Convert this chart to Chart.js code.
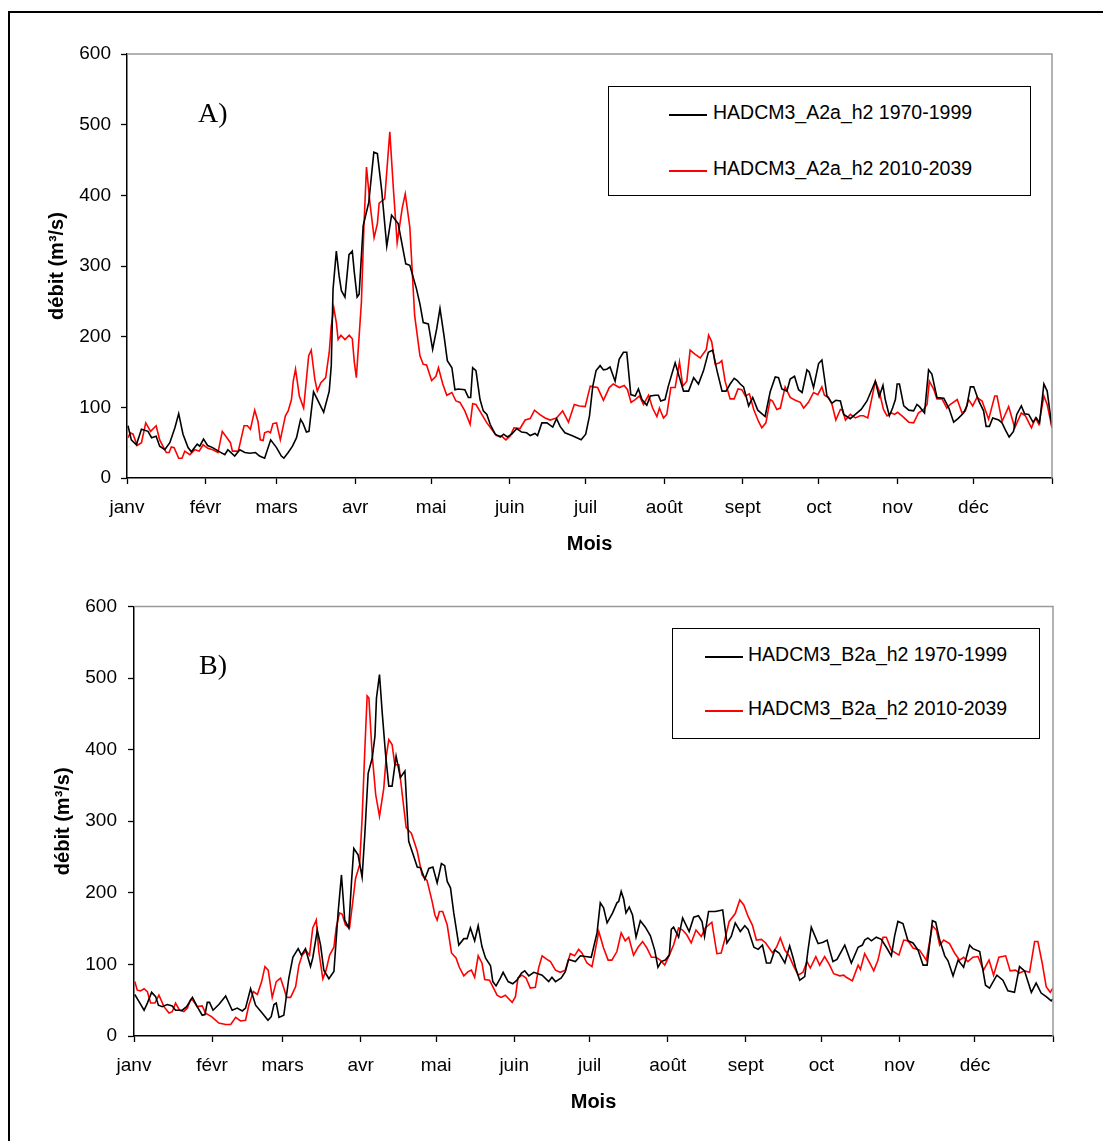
<!DOCTYPE html>
<html>
<head>
<meta charset="utf-8">
<script src="https://cdn.jsdelivr.net/npm/chart.js"></script>
<style>
body { margin: 0; background: #fff; width: 1103px; height: 1141px; overflow: hidden; position: relative; font-family: 'Liberation Sans', Arial, sans-serif; }
.frame { position: absolute; left: 8px; top: 11px; width: 1200px; height: 1200px; border-left: 2px solid #000; border-top: 2px solid #000; }
canvas { position: absolute; left: 0; }
.legend { position: absolute; box-sizing: border-box; border: 1px solid #000; background: #fff; }
.row { position: absolute; left: 0; width: 100%; height: 20px; font-size: 19.5px; line-height: 20px; white-space: nowrap; color: #000; }
.row i { position: absolute; width: 38px; height: 2px; top: 12px; }
.row span { position: absolute; top: 0; }
.tag { position: absolute; font-family: 'Liberation Serif', 'Times New Roman', serif; font-size: 28px; line-height: 28px; color: #000; }
</style>
</head>
<body>
<div class="frame"></div>
<canvas id="chartA" width="1103" height="570" style="top:0px"></canvas>
<canvas id="chartB" width="1103" height="581" style="top:560px"></canvas>
<div class="tag" style="left:198px;top:99px">A)</div>
<div class="tag" style="left:199px;top:651px">B)</div>
<script>
// axe des mois (jour de l'annee du 1er de chaque mois)
const monthNames = ['janv', 'févr', 'mars', 'avr', 'mai', 'juin', 'juil', 'août', 'sept', 'oct', 'nov', 'déc'];
const monthStarts = [0, 31, 59, 90, 120, 151, 181, 212, 243, 273, 304, 334, 365];
const yMin = 0, yMax = 600, yStep = 100;

const labelsA = ['HADCM3_A2a_h2 1970-1999', 'HADCM3_A2a_h2 2010-2039'];
const labelsB = ['HADCM3_B2a_h2 1970-1999', 'HADCM3_B2a_h2 2010-2039'];

// [jour, debit m3/s]
const histA = [[0.4,74],[1.7,54],[3.7,47],[5.7,69],[8.3,66],[9.7,57],[11.5,59],[12.9,45],[14.9,40],[16.9,50],[18.9,71],[20.4,91],[22.1,62],[24.1,43],[25.4,37],[27.7,48],[28.7,45],[30.2,55],[31.8,46],[33.8,43],[36.6,37],[38.6,33],[39.8,40],[42.5,31],[44.5,40],[46.5,36],[48.5,35],[50.7,36],[52.3,31],[54.3,28],[56.7,54],[59,43],[60.9,31],[61.9,28],[63.6,36],[65.3,45],[66.9,57],[68.5,83],[69.5,77],[70.8,65],[71.8,66],[73.6,122],[75.4,109],[77.6,93],[79.8,123],[80.6,159],[81.3,267],[82.6,321],[83.7,286],[84.6,265],[86,256],[87.6,316],[88.9,321],[89.7,291],[90.8,256],[91.6,260],[93.2,357],[95.4,390],[97.4,461],[98.8,459],[100.5,407],[102.5,328],[104.4,372],[107,360],[110,303],[111.6,301],[114.2,268],[115.6,246],[116.9,220],[118.9,218],[120.6,182],[122.2,211],[123.5,240],[125.1,201],[126.4,166],[128.2,156],[129.4,125],[130.7,126],[133.3,125],[134.7,114],[135.6,114],[136.4,156],[137.7,152],[139.3,111],[140.6,95],[142,90],[143.3,76],[145.3,62],[147.3,58],[148.6,62],[150.1,58],[151.8,62],[153.8,70],[155.7,65],[157.7,64],[159.1,60],[161,63],[162,60],[163.7,78],[165.7,78],[168,72],[169.5,84],[170.9,73],[172.8,64],[175.5,60],[177.5,57],[179.2,54],[181,62],[182.5,88],[183.8,130],[185.1,152],[186.7,159],[188,153],[189.3,154],[190.6,157],[192.6,137],[194.2,168],[195.9,178],[197.2,178],[198.8,118],[200.5,116],[201.8,126],[203.2,111],[205.1,103],[206.5,116],[208.5,117],[209.7,117],[210.6,109],[212.3,111],[213.6,130],[216.3,163],[217.6,147],[219.6,123],[221.6,123],[223.6,142],[225.5,133],[227.5,152],[229.4,178],[231.1,181],[232.8,152],[234.8,123],[236.4,123],[238,133],[239.6,141],[240.8,138],[242,133],[243.3,129],[245.3,102],[246.9,114],[248.9,96],[251.8,87],[253.8,122],[255.8,143],[257.1,142],[258.4,126],[260.4,123],[261.7,140],[263.4,144],[265,125],[266.4,121],[268.3,153],[269.2,150],[270.9,128],[272.9,162],[274.2,167],[276.2,116],[278.2,106],[279.7,110],[281.5,109],[282.8,90],[285.4,84],[287.4,90],[289.7,97],[292,109],[295.3,137],[296.8,115],[298.3,131],[299.2,111],[300.8,88],[302.1,99],[303.2,111],[303.9,133],[304.8,133],[306.5,102],[308.5,96],[310.4,95],[311.7,104],[312.7,101],[314.7,92],[316.3,153],[317.6,147],[319.6,114],[322.3,113],[324.3,99],[326.2,79],[327.9,84],[330.1,92],[331.4,102],[332.8,129],[334.1,129],[336.1,109],[338,95],[339,73],[340.3,73],[341.6,85],[344,82],[345.3,78],[346.6,68],[348.1,58],[349.8,66],[351.1,90],[352.9,102],[354.2,91],[355.8,90],[357.5,79],[358.8,85],[360.1,78],[361.8,133],[363.1,123],[365,71]];

const futA = [[0.4,57],[1.3,64],[2.4,62],[4,46],[5.7,50],[7.4,78],[9.3,66],[11.5,74],[12.9,54],[15.5,36],[16.6,36],[17.5,44],[18.6,43],[20.4,28],[21.7,28],[22.8,38],[24.8,33],[26.8,40],[28.5,38],[30,47],[31.9,42],[33.9,40],[35.9,36],[37.6,66],[40.8,50],[41.6,38],[43.9,38],[46.2,74],[47.5,74],[48.7,69],[50.4,96],[51.7,80],[52.6,54],[53.7,53],[54.3,64],[55.7,66],[56.6,64],[57.6,77],[59,78],[60.5,54],[62.5,88],[63.6,95],[64.9,111],[65.6,137],[66.5,154],[68,116],[69.7,99],[71.7,173],[72.7,181],[74.1,140],[75.1,123],[76.5,135],[78.4,142],[79.8,178],[80.6,215],[81.6,241],[82.6,220],[83.3,196],[84.4,202],[86,196],[87.7,202],[88.9,197],[89.7,164],[90.5,142],[92.5,249],[93.5,357],[94.5,440],[95.8,391],[97.5,340],[98.8,360],[99.5,389],[101.7,395],[103.7,490],[105.1,410],[106.6,333],[108.6,382],[109.8,402],[111.6,355],[113.5,230],[115.6,173],[116.9,161],[118.2,160],[120.2,138],[121.9,144],[122.9,156],[124.6,133],[126.2,117],[128.2,121],[129.8,109],[131.4,107],[133.3,95],[135.4,76],[136.4,105],[137.7,104],[140,90],[142,78],[143.9,69],[145.7,60],[147.9,59],[149.5,54],[151.1,59],[152.7,71],[155.1,70],[157.1,82],[159.1,84],[160.8,96],[162.8,90],[165,85],[167,82],[169.5,85],[171.9,95],[174.2,79],[176.5,104],[178.5,102],[180.8,101],[182.8,130],[184.1,129],[185.7,128],[188,110],[190.3,128],[191.9,133],[194.3,128],[196.2,131],[197.5,125],[198.9,107],[200.5,111],[202.2,116],[203.8,104],[205.8,117],[207.4,99],[209.1,87],[210.1,99],[211.7,85],[213,90],[214.6,128],[216.3,128],[218,164],[219.3,130],[220.9,137],[222.2,181],[224.2,175],[226.2,170],[228.6,182],[229.5,202],[230.7,193],[232.1,161],[233.8,163],[234.7,166],[236,137],[238,112],[239.6,112],[241.1,126],[242.6,125],[244,116],[245.6,119],[247.3,97],[249.2,80],[250.5,71],[252.1,78],[253.8,111],[254.7,109],[256.4,97],[257.8,99],[259.7,129],[261.7,114],[263.7,110],[265.7,107],[267,99],[268.9,107],[270.9,121],[272.6,118],[274.2,129],[275.2,117],[276.8,114],[278.2,104],[279.7,82],[281.5,97],[282.4,96],[283.5,82],[285.4,90],[287.4,85],[289.3,88],[290.6,88],[292.3,85],[295.3,137],[296.8,123],[298.5,97],[299.9,88],[301.6,92],[302.9,90],[304.1,93],[305.8,88],[308.5,79],[310.4,78],[312.3,92],[314.3,97],[315.7,104],[316.6,137],[318.4,125],[319.6,112],[321.6,112],[323.5,99],[324.8,104],[327.6,111],[329.5,92],[330.8,95],[332.1,111],[333.7,102],[335.4,114],[337.4,109],[340,83],[342.4,116],[343.3,116],[345.3,80],[347.9,101],[350.3,71],[352.9,92],[354.5,88],[356.9,71],[358.5,85],[359.8,76],[361.8,116],[363.1,104],[365,71]];

const histB = [[0.3,58],[2,48],[4,36],[5.3,46],[7,61],[8.6,55],[9.7,43],[11.2,41],[13.2,44],[15.2,42],[16.5,36],[19.2,36],[20.9,41],[23.2,54],[25.1,41],[27.1,29],[28.2,30],[29.1,47],[30,47],[31.4,36],[33.7,44],[36.4,56],[39,36],[41,39],[43,35],[44.3,39],[46.3,66],[48.3,43],[50.9,32],[53.2,22],[54.5,27],[55.6,44],[56.5,46],[57.6,26],[59.5,29],[61.5,81],[63.1,110],[65.2,122],[66.5,113],[68.1,122],[70.1,97],[71,109],[72.8,148],[74.1,127],[75.4,92],[77.4,80],[79.4,90],[81.1,174],[82.4,225],[83.7,162],[85.3,151],[86.4,216],[87.3,262],[89,253],[90.6,222],[91.7,283],[93,367],[94.6,388],[95.7,419],[96.3,472],[97.5,505],[98.6,451],[99.9,394],[101.2,349],[102.5,349],[104.1,391],[105.8,361],[107.6,370],[109.1,272],[111.1,251],[112.5,236],[113.8,235],[115.5,219],[117.1,234],[118.7,236],[120.4,214],[122.1,241],[123.4,238],[124.4,216],[125.7,207],[127,172],[129,127],[131,136],[132.3,136],[133.6,151],[135.3,133],[136.7,154],[138.2,125],[139.6,109],[141.6,98],[142.5,76],[143.8,70],[145.5,81],[146.6,89],[148.6,76],[150.4,73],[152.1,78],[153.9,88],[155.2,91],[156.8,84],[158.8,89],[162.1,85],[164.7,76],[166,82],[167.4,76],[169.7,81],[171.3,90],[172.6,107],[175.3,104],[177.3,112],[179.3,111],[181.6,110],[183.9,144],[185.2,186],[186.5,179],[187.9,158],[190.1,172],[191.8,186],[192.5,188],[193.5,202],[194.5,191],[195.4,172],[196.7,180],[198,169],[199.4,138],[201.1,161],[203.1,152],[205.1,140],[206.8,120],[208.1,96],[209.4,104],[211,106],[212.6,113],[213.4,149],[214.3,152],[216.3,138],[217.9,165],[220.5,146],[222.3,166],[224.2,168],[225.6,160],[226.6,139],[228.2,174],[230.9,174],[233.8,176],[235.5,130],[237.2,139],[238.8,158],[240.8,146],[242.6,154],[243.9,149],[246.2,124],[247.9,121],[249.6,127],[251.2,102],[252.8,102],[254.5,120],[256.2,116],[258.5,102],[260.4,126],[261.8,109],[262.8,95],[264.4,78],[266.4,83],[267.7,120],[269,152],[271.7,129],[273.7,131],[275.3,134],[276.3,120],[277.6,104],[279.2,107],[282.3,127],[284.9,102],[287.6,124],[289.3,127],[290.2,134],[291.5,137],[292.9,133],[294.8,138],[296.8,135],[298.8,124],[300.8,112],[302.1,140],[303.4,160],[305.4,157],[307.4,133],[309.4,130],[311.4,120],[313.4,99],[315,99],[317.1,161],[318.4,159],[320,134],[322,112],[323.3,105],[325.3,84],[327.3,106],[329.5,96],[331.9,127],[333.2,122],[335.9,118],[338.2,71],[339.8,67],[342.7,85],[345.1,78],[347.1,63],[349.7,61],[351.7,97],[353.7,91],[356.4,61],[358.3,74],[360.3,60],[362.3,55],[364.3,49],[365,52]];

const futB = [[0.3,76],[1.3,64],[2.6,63],[4,66],[5.3,62],[6.6,46],[8.3,46],[9.9,57],[11.9,41],[13.9,32],[15.2,34],[16.5,46],[18.1,36],[19.8,34],[21.2,39],[22.5,51],[23.4,50],[25.1,41],[27.1,42],[28.4,32],[30.8,27],[33.7,18],[36.4,16],[38.4,16],[40.4,26],[42.3,21],[44.3,22],[45.6,43],[47.4,62],[49,58],[50.7,76],[52,97],[53.3,92],[54.9,54],[56.5,76],[58.2,81],[59.5,67],[60.6,54],[62.2,54],[64.2,69],[65.5,99],[66.8,113],[68.4,119],[69.7,113],[71,151],[72.4,162],[73.4,118],[75,80],[76.3,92],[77.7,113],[79.4,124],[80.3,151],[81.6,172],[82.7,170],[84,155],[85.6,151],[86.7,182],[88,220],[89.6,239],[90.6,304],[91.7,402],[92.6,475],[93.3,472],[94.6,393],[96,337],[97.5,307],[99.2,346],[100.2,391],[101.2,414],[102.5,407],[103.6,379],[105.2,379],[106.5,339],[108.1,291],[110.2,283],[112.5,258],[114.4,225],[116.4,217],[118.4,188],[119.5,169],[120.4,162],[121.3,174],[122.6,174],[124.4,155],[126.1,116],[127.9,109],[129.2,96],[131,84],[132.7,90],[134,92],[135.3,82],[136.7,112],[138.2,102],[139.3,79],[141.2,78],[142.5,69],[144.2,57],[145.8,54],[147.5,57],[149.1,51],[150.2,47],[151.5,55],[152.5,81],[154.1,85],[155.7,81],[157.4,67],[159.4,68],[160.7,95],[162.1,112],[164,107],[165.4,104],[167.4,92],[169.3,89],[171.3,92],[173.3,115],[175,112],[176.6,121],[177.9,116],[179.9,102],[181.9,97],[183.2,120],[184.6,146],[186.5,123],[188.3,106],[189.8,106],[191.8,118],[193.5,144],[195.1,133],[196.5,138],[198.4,113],[200.2,124],[202,132],[203.7,123],[205.5,110],[207.3,110],[209,106],[210.8,99],[212.6,113],[214.3,127],[216.3,151],[217.9,148],[219.6,141],[221.3,130],[223.2,148],[225.3,139],[226.9,151],[229.5,159],[231.5,115],[233.2,116],[234.8,137],[236.4,160],[238.8,171],[240.6,190],[242.2,183],[243.9,167],[245.6,155],[247.2,134],[249.2,135],[250.9,130],[253.6,116],[255.2,124],[256.7,137],[258.5,120],[260.2,112],[261.8,99],[263.8,85],[265.7,89],[267.3,104],[268.6,95],[270.8,111],[272.3,99],[274.3,111],[276.3,99],[277.9,87],[280.3,84],[281.9,85],[282.9,82],[285.3,77],[287.6,99],[288.5,93],[290.2,115],[292.2,102],[293.8,91],[295.5,106],[297.5,138],[298.8,138],[300.8,120],[303.8,113],[305.7,134],[307.4,133],[309.4,123],[312,120],[314.7,106],[317.1,154],[318.7,148],[320,127],[321.6,134],[323.9,129],[325.9,116],[327.9,106],[329.5,110],[331.2,104],[333.2,110],[335.2,111],[337.4,92],[339.6,106],[341.4,85],[343.5,110],[346.2,112],[348,91],[350.1,92],[351.7,88],[353.7,91],[355.7,89],[357.7,132],[359,132],[360.7,102],[362.3,69],[363.9,61],[365,67]];

Chart.defaults.font.family = "'Liberation Sans', Arial, sans-serif";
Chart.defaults.color = '#000';

// cadre gris haut / droite de la zone de trace
const plotFrame = {
    id: 'plotFrame',
    afterDraw(chart) {
        const { ctx, chartArea: a } = chart;
        ctx.save();
        ctx.strokeStyle = '#999';
        ctx.lineWidth = 1.5;
        ctx.beginPath();
        ctx.moveTo(a.left, a.top);
        ctx.lineTo(a.right, a.top);
        ctx.lineTo(a.right, a.bottom);
        ctx.stroke();
        ctx.restore();
    }
};

function toPoints(arr) {
    return arr.map(p => ({ x: p[0], y: p[1] }));
}

function drawPanel(id, hist, fut, names, g) {
    const ctx = document.getElementById(id).getContext('2d');
    const tickGrid = { drawOnChartArea: false, tickLength: 6, tickColor: '#000', tickWidth: 1.3 };
    return new Chart(ctx, {
        type: 'line',
        data: {
            datasets: [
                { label: names[0], data: toPoints(hist), borderColor: '#000000', borderWidth: 1.6, pointRadius: 0, tension: 0 },
                { label: names[1], data: toPoints(fut), borderColor: '#ff0000', borderWidth: 1.6, pointRadius: 0, tension: 0 }
            ]
        },
        options: {
            responsive: false,
            animation: false,
            devicePixelRatio: 1,
            layout: { padding: { left: 0, top: g.top, right: g.right, bottom: 0 } },
            plugins: { legend: { display: false }, tooltip: { enabled: false } },
            scales: {
                x: {
                    type: 'linear',
                    min: 0,
                    max: 365,
                    afterBuildTicks: s => { s.ticks = monthStarts.map(v => ({ value: v })); },
                    afterFit: s => { s.height = g.xHeight; },
                    ticks: {
                        autoSkip: false,
                        maxRotation: 0,
                        padding: 12,
                        font: { size: 19 },
                        callback: v => monthNames[monthStarts.indexOf(v)] || ''
                    },
                    grid: tickGrid,
                    border: { color: '#000', width: 1.5 },
                    title: { display: true, text: 'Mois', font: { size: 20, weight: 'bold' }, padding: { top: 0, bottom: g.xTitlePad } }
                },
                y: {
                    min: yMin,
                    max: yMax,
                    afterFit: s => { s.width = g.yWidth; },
                    ticks: { stepSize: yStep, padding: g.yTickPad, font: { size: 19 } },
                    grid: tickGrid,
                    border: { color: '#000', width: 1.5 },
                    title: { display: true, text: 'débit (m³/s)', font: { size: 20, weight: 'bold' }, padding: { top: g.yTitlePad, bottom: 0 } }
                }
            }
        },
        plugins: [plotFrame]
    });
}

function addLegend(chart, box) {
    const el = document.createElement('div');
    el.className = 'legend';
    el.style.left = box.left + 'px';
    el.style.top = box.top + 'px';
    el.style.width = box.width + 'px';
    el.style.height = box.height + 'px';
    chart.data.datasets.forEach((ds, i) => {
        const row = document.createElement('div');
        row.className = 'row';
        row.style.top = box.rows[i] + 'px';
        const sw = document.createElement('i');
        sw.style.left = box.swatch + 'px';
        sw.style.background = ds.borderColor;
        const tx = document.createElement('span');
        tx.style.left = box.text + 'px';
        tx.textContent = ds.label;
        row.appendChild(sw);
        row.appendChild(tx);
        el.appendChild(row);
    });
    document.body.appendChild(el);
}

const chartA = drawPanel('chartA', histA, futA, labelsA,
    { top: 54, right: 51, xHeight: 92, yWidth: 127, yTickPad: 10, yTitlePad: 45, xTitlePad: 13.5 });
const chartB = drawPanel('chartB', histB, futB, labelsB,
    { top: 46.5, right: 50, xHeight: 105, yWidth: 134, yTickPad: 11, yTitlePad: 51, xTitlePad: 27 });

addLegend(chartA, { left: 608, top: 86, width: 423, height: 110, rows: [15, 71], swatch: 60, text: 104 });
addLegend(chartB, { left: 672, top: 628, width: 368, height: 111, rows: [15, 68.5], swatch: 32, text: 75 });
</script>
</body>
</html>
